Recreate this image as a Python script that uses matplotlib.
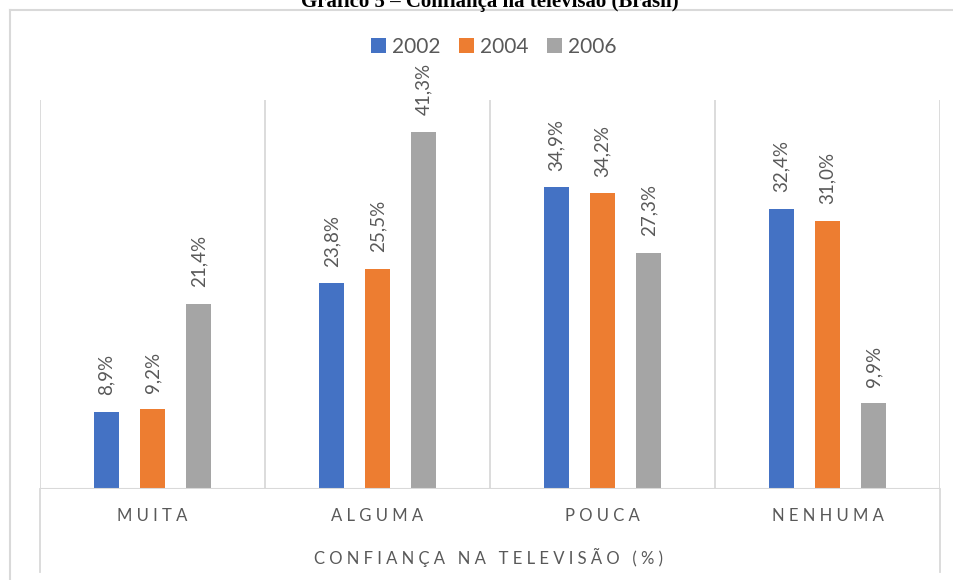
import matplotlib
matplotlib.use("Agg")
import matplotlib.pyplot as plt
from matplotlib.lines import Line2D
import numpy as np

# === Data ===
categories = ["MUITA", "ALGUMA", "POUCA", "NENHUMA"]
years = ["2002", "2004", "2006"]
v2002 = [8.9, 23.8, 34.9, 32.4]
v2004 = [9.2, 25.5, 34.2, 31.0]
v2006 = [21.4, 41.3, 27.3, 9.9]
colors = ["#4472C4", "#ED7D31", "#A5A5A5"]

TXT = "#595959"
GRID = "#D9D9D9"
FONT = ["Lato", "DejaVu Sans"]
plt.rcParams["font.family"] = FONT

W, H = 954, 580


def spaced(s):
    # letter spacing like the Excel axis labels
    return "\u2009\u2009".join(s).replace("\u2009\u2009 \u2009\u2009", "   ")


fig = plt.figure(figsize=(W / 100, H / 100), dpi=100)
ax = fig.add_axes([40 / W, (H - 489) / H, 900 / W, 389 / H])

x = np.arange(len(categories))
offsets = [-0.2045, 0.0, 0.2045]
bw = 25 / 225

for vals, off, col, yr in zip([v2002, v2004, v2006], offsets, colors, years):
    bars = ax.bar(x + off, vals, width=bw, color=col, label=yr, zorder=3)
    for b, v in zip(bars, vals):
        ax.annotate(f"{v:.1f}%".replace(".", ","),
                    (b.get_x() + b.get_width() / 2, b.get_height()),
                    xytext=(0, 12), textcoords="offset points",
                    rotation=90, ha="center", va="bottom",
                    fontsize=13.5, color=TXT)

ax.set_xlim(-0.5, len(categories) - 0.5)
ax.set_ylim(0, 45)
for s in ax.spines.values():
    s.set_visible(False)
ax.set_xticks([])
ax.set_yticks([])

# separators between categories
for xv in np.arange(-0.5, len(categories), 1.0):
    ax.axvline(xv, color=GRID, lw=1.3, zorder=1)
ax.axhline(0, color=GRID, lw=1.5, zorder=4)

# outer separators extend down into the label band
for px in (40, 940):
    fig.add_artist(Line2D([px / W, px / W], [(H - 572) / H, (H - 489) / H],
                          color=GRID, lw=1.3))

# chart frame (left and top)
fig.add_artist(Line2D([10 / W, 10 / W], [0, (H - 10) / H], color=GRID, lw=1.5))
fig.add_artist(Line2D([10 / W, 1], [(H - 10) / H, (H - 10) / H], color=GRID, lw=1.5))

# category labels
for i, c in enumerate(categories):
    ax.text(i, -0.07, spaced(c), transform=ax.get_xaxis_transform(),
            ha="center", va="center", fontsize=12, color=TXT)

fig.text(489 / W, (H - 557) / H, spaced("CONFIANÇA NA TELEVISÃO (%)"),
         ha="center", va="center", fontsize=12, color=TXT)

# title, cut off at the top like the source image
fig.text(490 / W, (H - 7) / H, "Gráfico 5 – Confiança na televisão (Brasil)",
         ha="center", va="baseline", fontsize=15, fontweight="bold",
         family="Liberation Serif", color="black")

fig.legend(loc="center", bbox_to_anchor=(494 / W, (H - 47) / H), ncol=3,
           frameon=False, fontsize=15, handlelength=0.7, handleheight=0.7,
           handletextpad=0.3, columnspacing=0.9, labelcolor=TXT)

fig.savefig("out.png", dpi=100)
